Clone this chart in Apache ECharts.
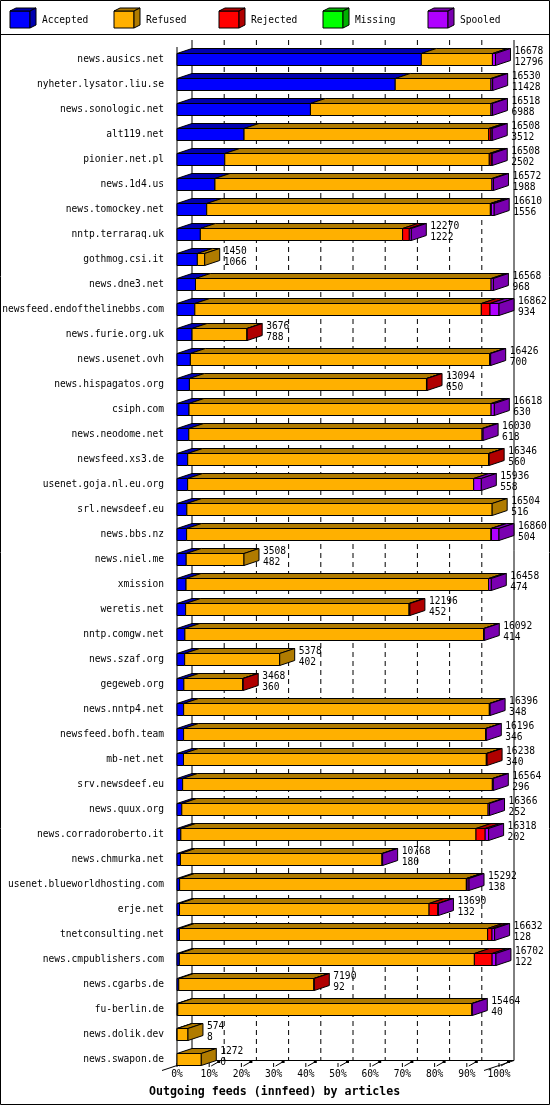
<!DOCTYPE html>
<html><head><meta charset="utf-8">
<script src="https://cdn.jsdelivr.net/npm/echarts@6/dist/echarts.min.js"></script>
<style>html,body{margin:0;padding:0;background:#fff}#c{width:550px;height:1105px}</style>
</head><body><div id="c"></div>
<script>
const hosts = ['news.ausics.net','nyheter.lysator.liu.se','news.sonologic.net','alt119.net','pionier.net.pl','news.1d4.us','news.tomockey.net','nntp.terraraq.uk','gothmog.csi.it','news.dne3.net','newsfeed.endofthelinebbs.com','news.furie.org.uk','news.usenet.ovh','news.hispagatos.org','csiph.com','news.neodome.net','newsfeed.xs3.de','usenet.goja.nl.eu.org','srl.newsdeef.eu','news.bbs.nz','news.niel.me','xmission','weretis.net','nntp.comgw.net','news.szaf.org','gegeweb.org','news.nntp4.net','newsfeed.bofh.team','mb-net.net','srv.newsdeef.eu','news.quux.org','news.corradoroberto.it','news.chmurka.net','usenet.blueworldhosting.com','erje.net','tnetconsulting.net','news.cmpublishers.com','news.cgarbs.de','fu-berlin.de','news.dolik.dev','news.swapon.de'];
const offered = [16678,16530,16518,16508,16508,16572,16610,12270,1450,16568,16862,3676,16426,13094,16618,16030,16346,15936,16504,16860,3508,16458,12196,16092,5378,3468,16396,16196,16238,16564,16366,16318,10768,15292,13690,16632,16702,7190,15464,574,1272];
const accepted = [12796,11428,6988,3512,2502,1988,1556,1222,1066,968,934,788,700,650,630,618,560,558,516,504,482,474,452,414,402,360,348,346,340,296,252,202,180,138,132,128,122,92,40,8,0];
const refused = [3722,5012,9455,12811,13851,14504,14854,10593,384,15480,15003,2878,15671,12414,15818,15357,15756,14978,15988,15936,3026,15844,11699,15643,4976,3083,16008,15815,15858,16218,16039,15456,10553,15014,13068,16139,15450,7078,15404,566,1272];
const rejected = [0,0,0,120,105,0,50,350,0,0,455,10,0,30,0,0,30,0,0,30,0,0,45,0,0,25,0,0,40,0,0,480,0,40,455,230,930,20,0,0,0];
const missing = [0,0,0,0,0,0,0,0,0,0,0,0,0,0,0,0,0,0,0,0,0,0,0,0,0,0,0,0,0,0,0,0,0,0,0,0,0,0,0,0,0];
const spooled = [160,90,75,65,50,80,150,105,0,120,470,0,55,0,170,55,0,400,0,390,0,140,0,35,0,0,40,35,0,50,75,180,35,100,35,135,200,0,20,0,0];
const seriesNames = ['Accepted','Refused','Rejected','Missing','Spooled'];
const tickPercents = [0,10,20,30,40,50,60,70,80,90,100];
const chartTitle = 'Outgoing feeds (innfeed) by articles';

const FRONT = ['#0000ff','#ffb000','#ff0000','#00ff00','#b000ff'];
const DARK  = ['#0000b0','#b07b00','#b00000','#00b000','#7a00b0'];
const DX = 15, DY = 5, HALF = 6;
const FS = 9.6;
const FONT = FS + 'px "DejaVu Sans Mono"';
const maxVal = Math.max(...offered);

const rows = hosts.map((h,i)=>[i, accepted[i], refused[i], rejected[i], missing[i], spooled[i], offered[i]]);

function renderItem(params, api){
  const idx = api.value(0);
  const vals = [api.value(1),api.value(2),api.value(3),api.value(4),api.value(5)];
  const yc = api.coord([0, idx])[1];
  const top = yc - HALF, bot = yc + HALF;
  const children = [];
  let cum = 0, last = 1;
  let xe = api.coord([0, idx])[0];
  for (let k=0;k<5;k++){
    const v = vals[k];
    if (!(v>0)) continue;
    const x0 = api.coord([cum, idx])[0];
    cum += v;
    const x1 = api.coord([cum, idx])[0];
    children.push({type:'polygon', shape:{points:[[x0,top],[x1,top],[x1,bot],[x0,bot]]}, style:{fill:FRONT[k], stroke:'#000', lineWidth:1}});
    children.push({type:'polygon', shape:{points:[[x0,top],[x1,top],[x1+DX,top-DY],[x0+DX,top-DY]]}, style:{fill:DARK[k], stroke:'#000', lineWidth:1}});
    last = k; xe = x1;
  }
  children.push({type:'polygon', shape:{points:[[xe,top],[xe+DX,top-DY],[xe+DX,bot-DY],[xe,bot]]}, style:{fill:DARK[last], stroke:'#000', lineWidth:1}});
  children.push({type:'text', style:{text:String(api.value(6)), x:xe+DX+4, y:yc-8.5, font:FONT, fill:'#000', align:'left', verticalAlign:'middle'}});
  children.push({type:'text', style:{text:String(api.value(1)), x:xe+DX+4, y:yc+2.5, font:FONT, fill:'#000', align:'left', verticalAlign:'middle'}});
  return {type:'group', children};
}

const chart = echarts.init(document.getElementById('c'), null, {renderer:'canvas'});
chart.setOption({
  animation:false,
  backgroundColor:'#fff',
  title:{text:chartTitle, left:149, top:1086, padding:0, textStyle:{fontFamily:'DejaVu Sans Mono', fontWeight:'bold', fontSize:11.6, color:'#000'}},
  grid:{left:177, top:47, width:322, height:1025, containLabel:false, outerBoundsMode:'none'},
  xAxis:{type:'value', min:0, max:maxVal, interval:maxVal/10,
    axisLine:{show:false}, axisTick:{show:false}, splitLine:{show:false},
    axisLabel:{margin:-3, fontFamily:'DejaVu Sans Mono', fontSize:FS, color:'#000',
      formatter:v=>Math.round(v/maxVal*100)+'%'}},
  yAxis:{type:'category', inverse:true, data:hosts,
    axisLine:{show:false}, axisTick:{show:false}, splitLine:{show:false},
    axisLabel:{margin:13, fontFamily:'DejaVu Sans Mono', fontSize:FS, color:'#000', interval:0}},
  series:[{type:'custom', renderItem, data:rows, clip:false, z:2, encode:{x:6, y:0}}]
});

const g = [];
const line = (x1,y1,x2,y2,extra)=>Object.assign({type:'line', z:1, silent:true, shape:{x1,y1,x2,y2}, style:Object.assign({stroke:'#000', lineWidth:1}, extra||{})});
const FLOOR = 1060.5;
tickPercents.forEach(p=>{
  const xf = chart.convertToPixel({xAxisIndex:0}, maxVal*p/100);
  const xb = xf + DX;
  const solid = (p===0 || p===100);
  g.push(line(xb, 40, xb, FLOOR, solid ? {} : {lineDash:[5,4]}));
  g.push(line(xf, 1063, xf, 1067));
  g.push(line(xf+2, 1066, xf+9, 1062));
  g.push({type:'rect', z:1, silent:true, shape:{x:xf+8, y:1061, width:3, height:2}, style:{fill:'#000'}});
});
const x0f = chart.convertToPixel({xAxisIndex:0}, 0);
const x100f = chart.convertToPixel({xAxisIndex:0}, maxVal);
g.push(line(x0f+DX, FLOOR, x100f+DX, FLOOR));
g.push(line(x0f+DX, FLOOR, x0f-DX, FLOOR+10));
g.push(line(x100f+DX, FLOOR, x100f-DX, FLOOR+10));
g.push(line(x0f, 47, x0f, 1065));
// legend
const legX = [10,114,219,323,428];
seriesNames.forEach((n,k)=>{
  const x = legX[k];
  g.push({type:'polygon', z:5, silent:true, shape:{points:[[x,11],[x+20,11],[x+20,28],[x,28]]}, style:{fill:FRONT[k], stroke:'#000', lineWidth:1}});
  g.push({type:'polygon', z:5, silent:true, shape:{points:[[x,11],[x+20,11],[x+26,8],[x+6,8]]}, style:{fill:DARK[k], stroke:'#000', lineWidth:1}});
  g.push({type:'polygon', z:5, silent:true, shape:{points:[[x+20,11],[x+26,8],[x+26,25],[x+20,28]]}, style:{fill:DARK[k], stroke:'#000', lineWidth:1}});
  g.push({type:'text', z:5, silent:true, style:{text:n, x:x+32, y:20, font:FONT, fill:'#000', align:'left', verticalAlign:'middle'}});
});
g.push(line(0, 34.5, 550, 34.5));
g.push({type:'rect', z:5, silent:true, shape:{x:0.5, y:0.5, width:549, height:1104}, style:{fill:'none', stroke:'#000', lineWidth:1}});
chart.setOption({graphic:g});
</script>
</body></html>
